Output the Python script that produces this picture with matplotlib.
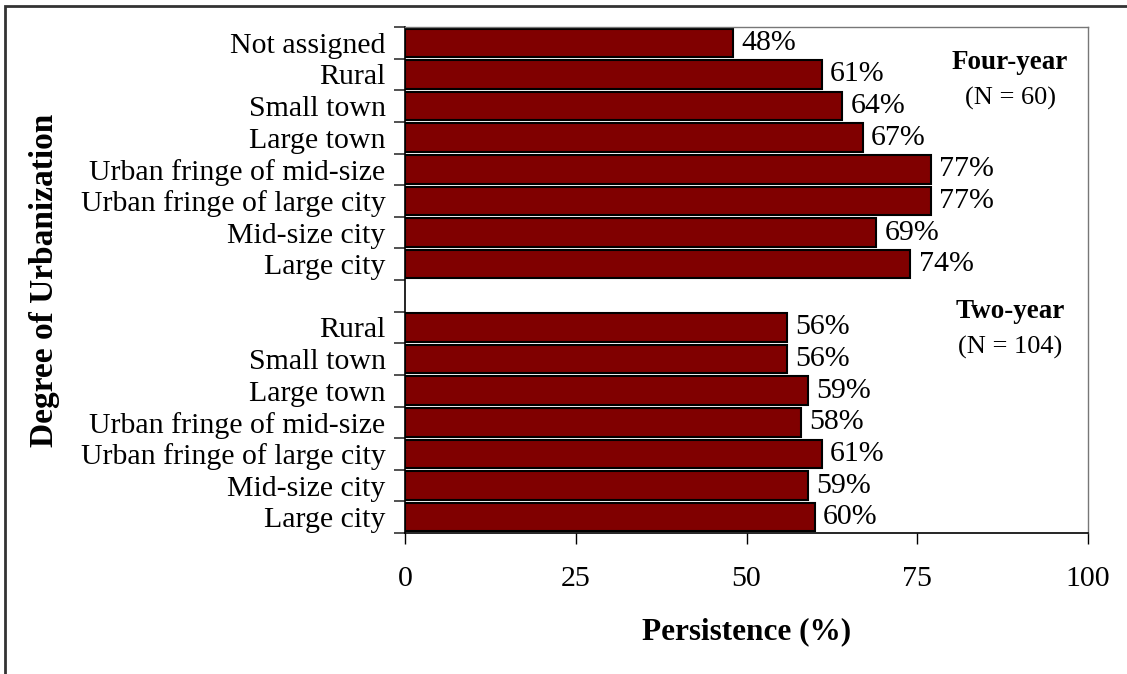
import matplotlib.pyplot as plt
import numpy as np
from matplotlib.patches import Rectangle

plt.rcParams['font.family'] = ['Liberation Serif', 'DejaVu Serif']

# data (top to bottom)
four_year_labels = ['Not assigned', 'Rural', 'Small town', 'Large town',
                    'Urban fringe of mid-size', 'Urban fringe of large city',
                    'Mid-size city', 'Large city']
four_year_values = [48, 61, 64, 67, 77, 77, 69, 74]

two_year_labels = ['Rural', 'Small town', 'Large town',
                   'Urban fringe of mid-size', 'Urban fringe of large city',
                   'Mid-size city', 'Large city']
two_year_values = [56, 56, 59, 58, 61, 59, 60]

x_ticks = [0, 25, 50, 75, 100]

labels = four_year_labels + [''] + two_year_labels
values = four_year_values + [None] + two_year_values
pos = np.arange(len(labels))

fig = plt.figure(figsize=(11.27, 6.74), dpi=100)
ax = fig.add_axes([405 / 1127, 1 - 533 / 674, 683 / 1127, 506 / 674])

bar_pos = [p for p, v in zip(pos, values) if v is not None]
bar_val = [v for v in values if v is not None]
ax.barh(bar_pos, bar_val, height=0.9, color='#800000', edgecolor='black', linewidth=1.5)

for p, v in zip(bar_pos, bar_val):
    ax.text(v + 1.2, p, f'{v}%', va='center', ha='left', fontsize=21.5)

ax.set_xlim(0, 100)
ax.set_ylim(len(labels) - 0.5, -0.5)
ax.set_xticks(x_ticks)
ax.set_xticklabels([str(t) for t in x_ticks], fontsize=21.5)
ax.tick_params(axis='x', length=8, width=1, pad=16, direction='out')

# major ticks at boundaries, labels on minor ticks at bar centres
ax.set_yticks(np.arange(-0.5, len(labels), 1.0))
ax.set_yticklabels([])
ax.tick_params(axis='y', which='major', length=8, width=1.2, direction='out', color='#333333')
ax.set_yticks(pos, minor=True)
ax.set_yticklabels(labels, minor=True, fontsize=21.5)
ax.tick_params(axis='y', which='minor', length=0, pad=14)

ax.spines['left'].set_color('black')
ax.spines['bottom'].set_color('black')
ax.spines['left'].set_linewidth(1.2)
ax.spines['bottom'].set_linewidth(1.2)
for s in ['top', 'right']:
    ax.spines[s].set_color('#777777')
    ax.spines[s].set_linewidth(1.0)

tr = ax.get_yaxis_transform()
ax.text(0.886, 0.63, 'Four-year', ha='center', va='center', fontsize=19.5,
        fontweight='bold', transform=tr)
ax.text(0.886, 1.75, '(N = 60)', ha='center', va='center', fontsize=19, transform=tr)
ax.text(0.886, 8.5, 'Two-year', ha='center', va='center', fontsize=19.5,
        fontweight='bold', transform=tr)
ax.text(0.886, 9.62, '(N = 104)', ha='center', va='center', fontsize=19, transform=tr)

fig.text(747 / 1127, 1 - 632 / 674, 'Persistence (%)', ha='center', va='center',
         fontsize=22.5, fontweight='bold')
fig.text(45 / 1127, 1 - 280 / 674, 'Degree of Urbanization', ha='center', va='center',
         fontsize=24, fontweight='bold', rotation=90)

# outer frame of the chart
fig.patches.append(Rectangle((5 / 1127, -0.1), 1.2, 1 - 6 / 674 + 0.1,
                             transform=fig.transFigure, fill=False,
                             edgecolor='#333333', linewidth=2))

fig.savefig('out.png', dpi=100)
